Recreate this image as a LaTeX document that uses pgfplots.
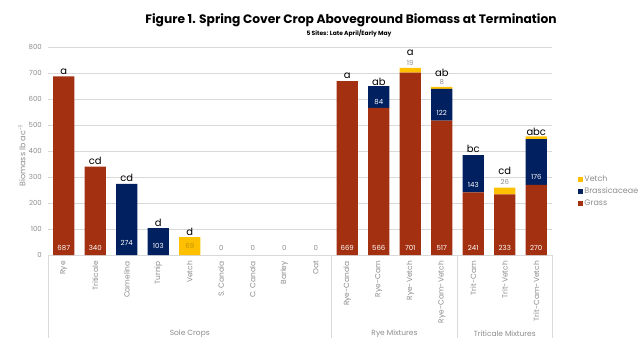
\documentclass[border=0pt]{standalone}
\usepackage{pgfplots}
\pgfplotsset{compat=1.18}
\usepackage{fontspec}
\setmainfont{Poppins}
\definecolor{grass}{HTML}{A33010}
\definecolor{brass}{HTML}{002060}
\definecolor{vetch}{HTML}{FFC000}
\definecolor{txtgray}{HTML}{8C8C8C}
\definecolor{gridgray}{HTML}{D9D9D9}
\definecolor{vlab}{HTML}{BF9000}
\begin{document}
\begin{tikzpicture}[x=1bp,y=1bp]
\useasboundingbox (0,0) rectangle (640,360);
\node[font=\fontsize{12.3}{14}\selectfont\bfseries] at (351,340) {Figure 1. Spring Cover Crop Aboveground Biomass at Termination};
\node[font=\fontsize{6}{7}\selectfont\bfseries] at (349,327) {5 Sites: Late April/Early May};
\begin{axis}[at={(48bp,105bp)}, anchor=south west, scale only axis,
  width=504bp, height=208bp,
  xmin=-0.5, xmax=15.5, ymin=0, ymax=800,
  ybar stacked, bar width=0.67,
  ytick={0,100,...,800}, ymajorgrids, grid style={gridgray, line width=0.6bp},
  axis lines*=left, y axis line style={draw=none}, x axis line style={gridgray, line width=0.6bp},
  major tick length=0pt,
  xtick={0,...,15},
  xticklabels={Rye,Triticale,Camelina,Turnip,Vetch,S. Canola,C. Canola,Barley,Oat,Rye-Canola,Rye-Cam,Rye-Vetch,Rye-Cam-Vetch,Trit-Cam,Trit-Vetch,Trit-Cam-Vetch},
  tick label style={font=\fontsize{7}{8}\selectfont, color=txtgray},
  xticklabel style={rotate=90, anchor=east, inner sep=0pt, font=\fontsize{7.5}{8}\selectfont},
  xticklabel shift=6bp,
  yticklabel style={inner sep=0pt},
  yticklabel shift=6bp,
  /pgf/number format/assume math mode=true,
  ylabel={Biomass lb ac\textsuperscript{-1}},
  ylabel style={font=\fontsize{8}{9}\selectfont, color=txtgray, at={(axis description cs:-0.052,0.476)}, anchor=center},
  clip=false,
  legend style={draw=none, fill=none, font=\fontsize{8}{9}\selectfont, text=txtgray,
    at={(axis description cs:1.045,0.395)}, anchor=north west, row sep=2.5bp,
    nodes={inner sep=1bp}},
  legend cell align=left, reverse legend,
  legend image code/.code={\fill[#1] (0bp,-2.7bp) rectangle (5.5bp,2.7bp);},
]
\addplot[fill=grass, draw=none] coordinates {(0,687) (1,340) (2,0) (3,0) (4,0) (5,0) (6,0) (7,0) (8,0) (9,669) (10,566) (11,701) (12,517) (13,241) (14,233) (15,270)};
\addlegendentry{Grass}
\addplot[fill=brass, draw=none] coordinates {(0,0) (1,0) (2,274) (3,103) (4,0) (5,0) (6,0) (7,0) (8,0) (9,0) (10,84) (11,0) (12,122) (13,143) (14,0) (15,176)};
\addlegendentry{Brassicaceae}
\addplot[fill=vetch, draw=none] coordinates {(0,0) (1,0) (2,0) (3,0) (4,69) (5,0) (6,0) (7,0) (8,0) (9,0) (10,0) (11,19) (12,8) (13,0) (14,26) (15,10)};
\addlegendentry{Vetch}
\draw[gridgray, line width=0.6bp] (axis cs:-0.5,0) -- (axis cs:-0.5,-319);
\draw[gridgray, line width=0.6bp] (axis cs:8.5,0) -- (axis cs:8.5,-319);
\draw[gridgray, line width=0.6bp] (axis cs:12.5,0) -- (axis cs:12.5,-319);
\draw[gridgray, line width=0.6bp] (axis cs:15.5,0) -- (axis cs:15.5,-319);
\node[font=\fontsize{7.5}{9}\selectfont, text=txtgray] at (axis cs:4,-304) {Sole Crops};
\node[font=\fontsize{7.5}{9}\selectfont, text=txtgray] at (axis cs:10.5,-304) {Rye Mixtures};
\node[font=\fontsize{7.5}{9}\selectfont, text=txtgray] at (axis cs:14,-304) {Triticale Mixtures};
\end{axis}
\begin{axis}[at={(48bp,105bp)}, anchor=south west, scale only axis,
  width=504bp, height=208bp,
  xmin=-0.5, xmax=15.5, ymin=0, ymax=800, hide axis, clip=false,
  every node near coord/.append style={inner sep=0pt, text depth=0pt},
]
% letters
\addplot[draw=none, nodes near coords, point meta=explicit symbolic,
  nodes near coords style={font=\fontsize{10}{12}\selectfont, text=black}]
  table[meta=l] {
x y l
0 695 a
1 348 cd
2 282 cd
3 109 d
4 75 d
9 678 a
10 652 ab
11 766 a
12 687 ab
13 395 bc
14 309 cd
15 459 abc
};
% grass and brassica values (white)
\addplot[draw=none, nodes near coords, point meta=explicit symbolic,
  nodes near coords style={font=\fontsize{7}{8}\selectfont, text=white}]
  table[meta=l] {
x y l
0 18 687
1 18 340
2 36 274
3 26 103
9 18 669
10 18 566
11 18 701
12 18 517
13 18 241
14 18 233
15 18 270
10 580 84
12 535 122
13 259 143
15 289 176
};
% vetch and zero values
\addplot[draw=none, nodes near coords, point meta=explicit symbolic,
  nodes near coords style={font=\fontsize{7}{8}\selectfont, text=txtgray}]
  table[meta=l] {
x y l
5 18 0
6 18 0
7 18 0
8 18 0
11 727 19
12 654 8
14 270 26
};
\addplot[draw=none, nodes near coords, point meta=explicit symbolic,
  nodes near coords style={font=\fontsize{7}{8}\selectfont, text=vlab}]
  table[meta=l] {
x y l
4 26 69
};
\end{axis}
\end{tikzpicture}
\end{document}
